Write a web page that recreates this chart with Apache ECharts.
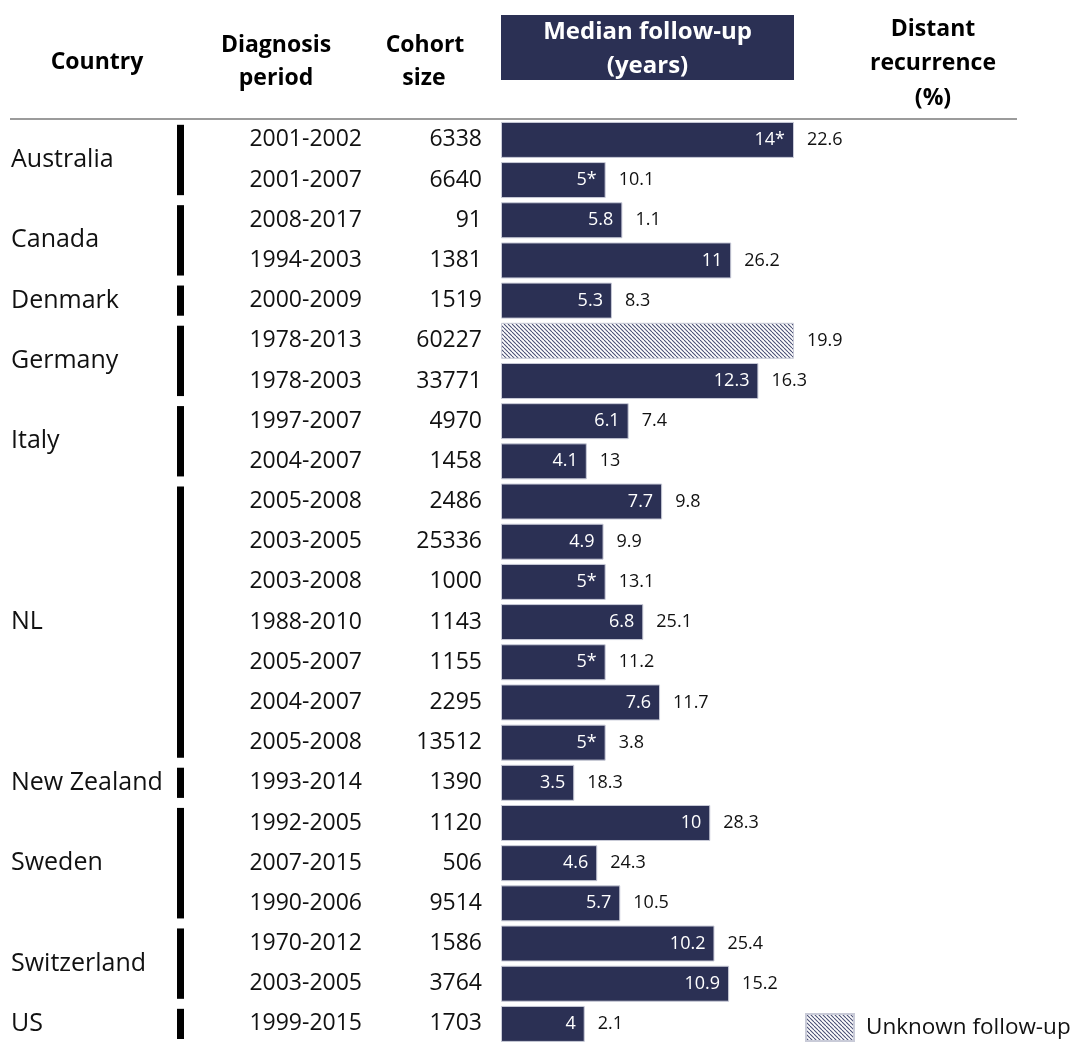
<!DOCTYPE html>
<html>
<head>
<meta charset="utf-8">
<script src="https://cdn.jsdelivr.net/npm/echarts@6/dist/echarts.min.js"></script>
<style>
  html, body { margin: 0; padding: 0; background: #fff; }
  #chart { width: 1073px; height: 1044px; }
</style>
</head>
<body>
<div id="chart"></div>
<script>
// Cohort study table: one row per cohort
const periods = ['2001-2002','2001-2007','2008-2017','1994-2003','2000-2009','1978-2013','1978-2003',
  '1997-2007','2004-2007','2005-2008','2003-2005','2003-2008','1988-2010','2005-2007','2004-2007',
  '2005-2008','1993-2014','1992-2005','2007-2015','1990-2006','1970-2012','2003-2005','1999-2015'];
const cohortSizes = [6338, 6640, 91, 1381, 1519, 60227, 33771, 4970, 1458, 2486, 25336, 1000, 1143,
  1155, 2295, 13512, 1390, 1120, 506, 9514, 1586, 3764, 1703];
// Median follow-up in years (null = not reported)
const followUp = [14, 5, 5.8, 11, 5.3, null, 12.3, 6.1, 4.1, 7.7, 4.9, 5, 6.8, 5, 7.6, 5, 3.5, 10, 4.6,
  5.7, 10.2, 10.9, 4];
// follow-up values marked with an asterisk
const starred = [true, true, false, false, false, false, false, false, false, false, false, true, false,
  true, false, true, false, false, false, false, false, false, false];
const recurrence = [22.6, 10.1, 1.1, 26.2, 8.3, 19.9, 16.3, 7.4, 13, 9.8, 9.9, 13.1, 25.1, 11.2, 11.7,
  3.8, 18.3, 28.3, 24.3, 10.5, 25.4, 15.2, 2.1];
// Country groups: first and last row index
const countries = ['Australia','Canada','Denmark','Germany','Italy','NL','New Zealand','Sweden','Switzerland','US'];
const groupStart = [0, 2, 4, 5, 7, 9, 16, 17, 20, 22];
const groupEnd   = [1, 3, 4, 6, 8, 15, 16, 19, 21, 22];

const axisMax = 14;
const NAVY = '#2b3054';
const FONT = '"Open Sans", "Noto Sans", sans-serif';

const rowKeys = periods.map((_, i) => String(i));
// unknown follow-up is drawn across the full axis
const unknownBars = followUp.map(v => (v === null ? axisMax : null));
const labelBars = followUp.map(v => (v === null ? axisMax : v));

// fine diagonal hatching for the unknown follow-up bar
function hatchCanvas() {
  const s = 4;
  const c = document.createElement('canvas');
  c.width = s; c.height = s;
  const g = c.getContext('2d');
  g.fillStyle = '#ffffff';
  g.fillRect(0, 0, s, s);
  g.strokeStyle = '#4a5075';
  g.lineWidth = 1.1;
  for (const k of [-s, 0, s]) {
    g.beginPath();
    g.moveTo(k, 0);
    g.lineTo(k + s, s);
    g.stroke();
  }
  return c;
}
const hatch = { image: hatchCanvas(), repeat: 'repeat' };

const chart = echarts.init(document.getElementById('chart'));

const gridLeft = 501, gridWidth = 293, gridTop = 119.8, rowH = 40.4;

const headerText = (x, y, text, color, size) => ({
  type: 'text', x, y,
  style: { text, fill: color || '#000', font: 'bold ' + (size || 23) + 'px ' + FONT, align: 'center', verticalAlign: 'middle' }
});

chart.setOption({
  animation: false,
  textStyle: { fontFamily: FONT },
  grid: { left: gridLeft, top: gridTop, width: gridWidth, height: rowH * periods.length },
  xAxis: { type: 'value', min: 0, max: axisMax, show: false },
  yAxis: [
    {
      type: 'category', data: rowKeys, inverse: true, position: 'left',
      axisLine: { show: false }, axisTick: { show: false }, splitLine: { show: false },
      axisLabel: { margin: 139, fontSize: 23, color: '#111', fontFamily: FONT, formatter: (v, i) => periods[i] }
    },
    {
      type: 'category', data: rowKeys, inverse: true, position: 'left', offset: 0,
      axisLine: { show: false }, axisTick: { show: false }, splitLine: { show: false },
      axisLabel: { margin: 19, fontSize: 23, color: '#111', fontFamily: FONT, formatter: (v, i) => String(cohortSizes[i]) }
    }
  ],
  legend: {
    data: ['Unknown follow-up'], left: 805, top: 1013, icon: 'rect', padding: 0,
    itemWidth: 48, itemHeight: 27, selectedMode: false,
    textStyle: { fontSize: 22.5, color: '#111', fontFamily: FONT, padding: [0, 0, 0, 7] }
  },
  graphic: [
    { type: 'rect', shape: { x: gridLeft, y: 15, width: gridWidth, height: 65 }, style: { fill: NAVY } },
    headerText(gridLeft + gridWidth / 2, 32, 'Median follow-up', '#fff', 24),
    headerText(gridLeft + gridWidth / 2, 66, '(years)', '#fff', 24),
    headerText(97, 62, 'Country'),
    headerText(276, 45, 'Diagnosis'),
    headerText(276, 78, 'period'),
    headerText(425, 45, 'Cohort'),
    headerText(424, 78, 'size'),
    headerText(933, 29, 'Distant'),
    headerText(933, 63, 'recurrence'),
    headerText(933, 98, '(%)'),
    { type: 'line', shape: { x1: 10, y1: 119, x2: 1017, y2: 119 }, style: { stroke: '#7a7a7a', lineWidth: 1.5 } }
  ],
  series: [
    {
      name: 'Median follow-up', type: 'bar', data: followUp, barWidth: 36, barGap: '-100%',
      itemStyle: { color: NAVY, borderColor: '#c9cbd8', borderWidth: 1 },
      label: {
        show: true, position: 'insideRight', distance: 9, color: '#fff', fontSize: 18, fontFamily: FONT,
        formatter: p => p.value + (starred[p.dataIndex] ? '*' : '')
      }
    },
    {
      name: 'Unknown follow-up', type: 'bar', data: unknownBars, barWidth: 36, barGap: '-100%',
      itemStyle: { color: hatch, borderColor: '#c9cbd8', borderWidth: 1 }
    },
    {
      name: 'Distant recurrence', type: 'bar', data: labelBars, barWidth: 36, barGap: '-100%',
      itemStyle: { color: 'rgba(0,0,0,0)' }, silent: true,
      label: {
        show: true, position: 'right', distance: 13, color: '#111', fontSize: 18, fontFamily: FONT,
        formatter: p => String(recurrence[p.dataIndex])
      }
    },
    {
      name: 'Country', type: 'custom', clip: false, silent: true,
      data: countries.map((c, i) => [0, groupStart[i], groupEnd[i]]),
      encode: { x: 0, y: 1 },
      renderItem: (params, api) => {
        const s = api.value(1), e = api.value(2);
        const band = api.size([0, 1])[1];
        const yTop = api.coord([0, s])[1] - band / 2 + 5;
        const yBot = api.coord([0, e])[1] + band / 2 - 5;
        return {
          type: 'group',
          children: [
            { type: 'rect', shape: { x: 177, y: yTop, width: 7, height: yBot - yTop }, style: { fill: '#000' } },
            {
              type: 'text', x: 11, y: (yTop + yBot) / 2,
              style: { text: countries[params.dataIndex], fill: '#111', fontSize: 25, fontFamily: FONT,
                       align: 'left', verticalAlign: 'middle' }
            }
          ]
        };
      }
    }
  ]
});
</script>
</body>
</html>
